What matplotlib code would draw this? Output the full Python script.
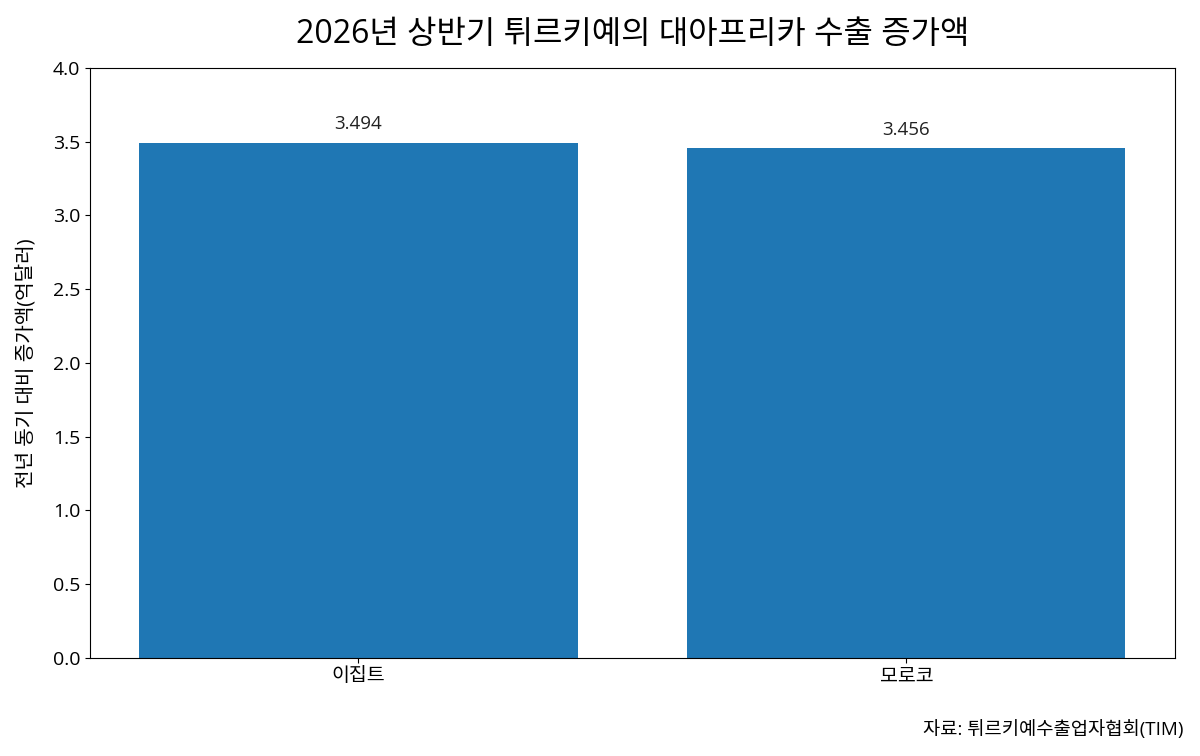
import matplotlib
matplotlib.use("Agg")
import matplotlib.pyplot as plt

plt.rcParams['font.family'] = ['Open Sans', 'Noto Sans CJK KR', 'DejaVu Sans']

categories = ['이집트', '모로코']
values = [3.494, 3.456]
labels = ['3.494', '3.456']

fig = plt.figure(figsize=(12, 7.56), dpi=100)
ax = fig.add_axes([0.075, 0.130, 0.904, 0.780])
bars = ax.bar(categories, values, color='#1f77b4', width=0.8)
for b, lab in zip(bars, labels):
    ax.annotate(lab, (b.get_x() + b.get_width() / 2, b.get_height()),
                xytext=(0, 7), textcoords='offset points',
                ha='center', va='bottom', fontsize=13.5, color='#222222')
ax.set_ylim(0, 4.0)
ax.set_yticks([0.0, 0.5, 1.0, 1.5, 2.0, 2.5, 3.0, 3.5, 4.0])
ax.tick_params(axis='y', labelsize=14)
ax.tick_params(axis='x', labelsize=14)
ax.set_ylabel('전년 동기 대비 증가액(억달러)', fontsize=14.5, labelpad=12)
ax.set_title('2026년 상반기 튀르키예의 대아프리카 수출 증가액', fontsize=23, pad=18)
fig.text(0.986, 0.022, '자료: 튀르키예수출업자협회(TIM)', ha='right', va='bottom', fontsize=13.5)
fig.savefig('out.png', dpi=100)
